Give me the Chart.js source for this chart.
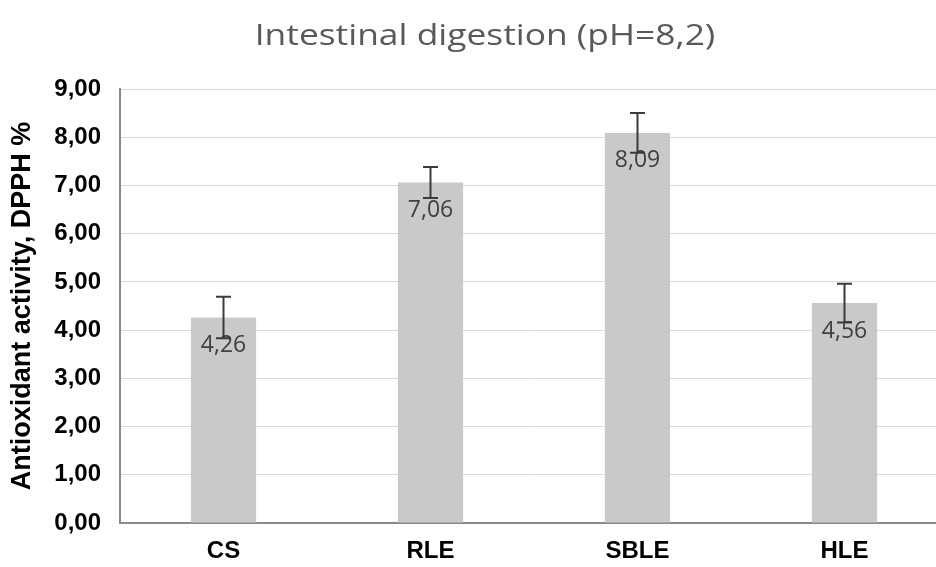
<!DOCTYPE html>
<html>
<head>
<meta charset="utf-8">
<script src="https://cdn.jsdelivr.net/npm/chart.js@4"></script>
<style>
html,body{margin:0;padding:0;background:#fff;overflow:hidden;}
#wrap{width:948px;height:567px;position:relative;}
</style>
</head>
<body>
<div id="wrap"><canvas id="c"></canvas></div>
<script>
const categories = ["CS", "RLE", "SBLE", "HLE"];
const values = [4.26, 7.06, 8.09, 4.56];
const errors = [0.43, 0.32, 0.41, 0.40];
const valueLabels = ["4,26", "7,06", "8,09", "4,56"];
const chartTitle = "Intestinal digestion (pH=8,2)";
const yTitle = "Antioxidant activity, DPPH %";

const titlePlugin = {
  id: 'customTitle',
  afterDraw(chart) {
    const ctx = chart.ctx;
    ctx.save();
    ctx.font = '29px "Open Sans"';
    ctx.fillStyle = '#595959';
    ctx.textAlign = 'center';
    ctx.textBaseline = 'alphabetic';
    ctx.translate(485, 45);
    ctx.scale(1.22, 1);
    ctx.fillText(chartTitle, 0, 0);
    ctx.restore();
  }
};

const labelsAndErrors = {
  id: 'labelsAndErrors',
  afterDatasetsDraw(chart) {
    const ctx = chart.ctx;
    const meta = chart.getDatasetMeta(0);
    const ys = chart.scales.y;
    ctx.save();
    meta.data.forEach((bar, i) => {
      ctx.font = '23px "Open Sans"';
      ctx.fillStyle = '#404040';
      ctx.textAlign = 'center';
      ctx.textBaseline = 'middle';
      ctx.fillText(valueLabels[i], bar.x, bar.y + 28);
    });
    meta.data.forEach((bar, i) => {
      const yt = ys.getPixelForValue(values[i] + errors[i]);
      const yb = ys.getPixelForValue(values[i] - errors[i]);
      ctx.strokeStyle = '#3a3a3a';
      ctx.lineWidth = 2;
      ctx.beginPath();
      ctx.moveTo(bar.x, yt); ctx.lineTo(bar.x, yb);
      ctx.moveTo(bar.x - 7.5, yt); ctx.lineTo(bar.x + 7.5, yt);
      ctx.moveTo(bar.x - 7.5, yb); ctx.lineTo(bar.x + 7.5, yb);
      ctx.stroke();
    });
    ctx.restore();
  }
};

new Chart(document.getElementById('c'), {
  type: 'bar',
  data: {
    labels: categories,
    datasets: [{
      data: values,
      backgroundColor: '#c9c9c9',
      borderWidth: 0,
      categoryPercentage: 1,
      barPercentage: 0.315
    }]
  },
  options: {
    responsive: true,
    maintainAspectRatio: false,
    animation: false,
    layout: { padding: { top: 89, left: 0, right: 0, bottom: 0 } },
    plugins: { legend: { display: false }, title: { display: false }, tooltip: { enabled: false } },
    scales: {
      x: {
        grid: { display: false, drawTicks: false },
        border: { color: '#8a8a8a', width: 2 },
        ticks: { color: '#000', font: { family: '"Liberation Sans", Arial', size: 24, weight: 'bold' }, padding: 14 },
        afterFit(s) { s.height = 44; }
      },
      y: {
        min: 0, max: 9,
        grid: { color: '#d9d9d9', lineWidth: 1, drawTicks: false },
        border: { color: '#8a8a8a', width: 2 },
        ticks: {
          stepSize: 1,
          padding: 19,
          color: '#000',
          font: { family: '"Liberation Sans", Arial', size: 24, weight: 'bold' },
          callback: (v) => Number(v).toFixed(2).replace('.', ',')
        },
        title: {
          display: true,
          text: yTitle,
          color: '#000',
          font: { family: '"Liberation Sans", Arial', size: 27, weight: 'bold' },
          padding: { top: 6, bottom: 0 }
        },
        afterFit(s) { s.width = 120; }
      }
    }
  },
  plugins: [titlePlugin, labelsAndErrors]
});
</script>
</body>
</html>
